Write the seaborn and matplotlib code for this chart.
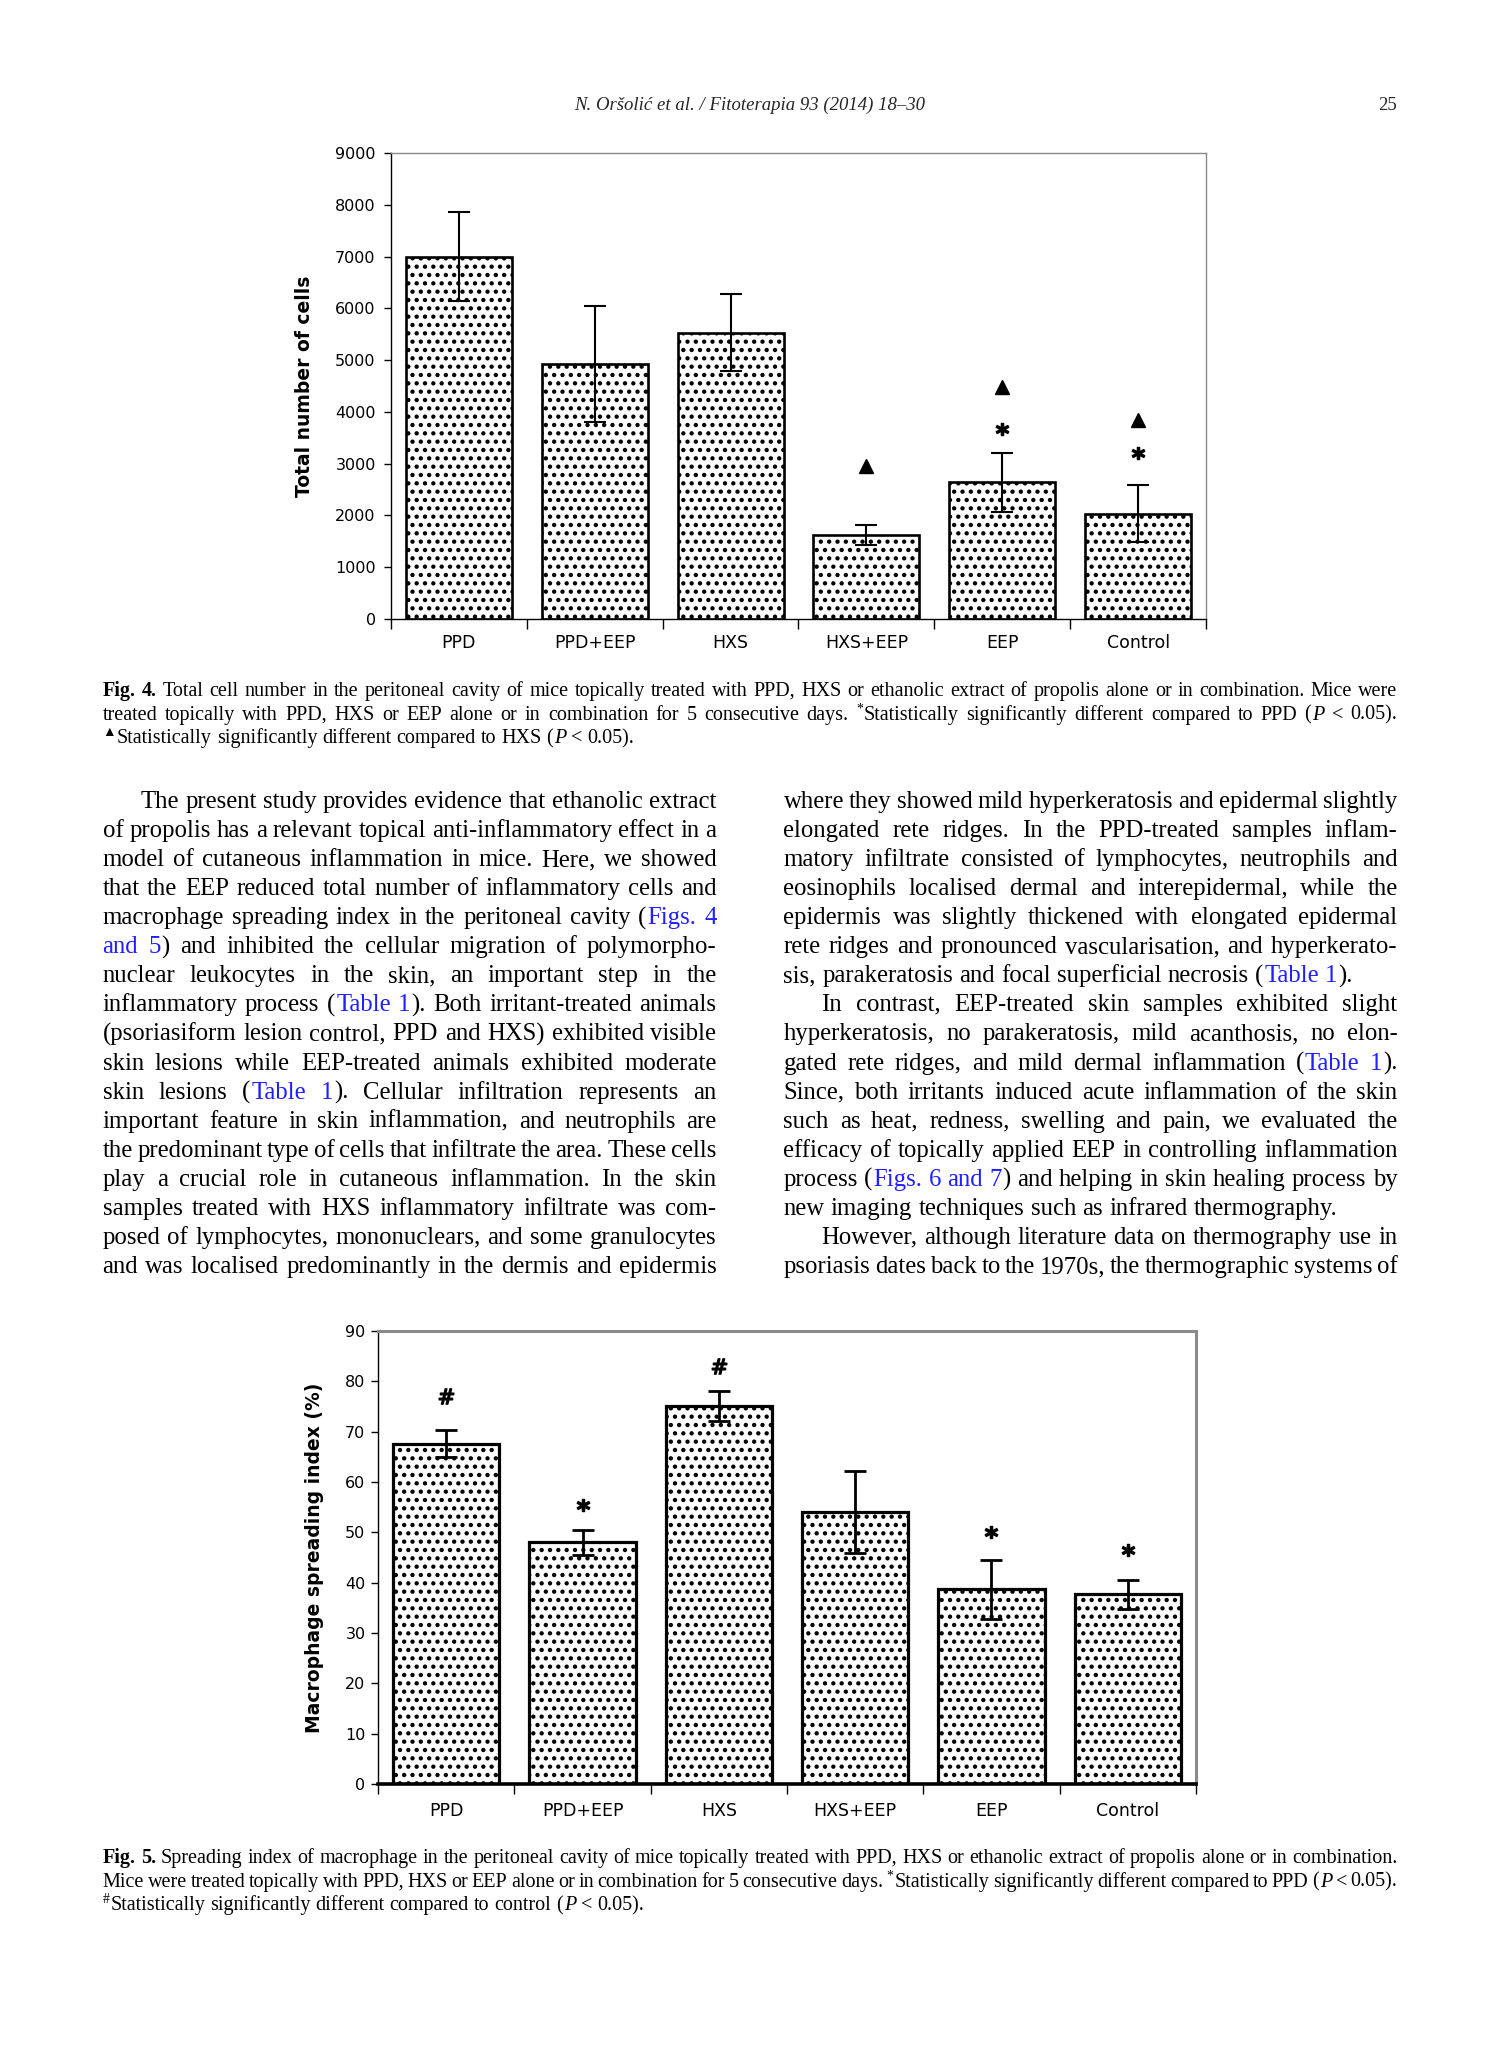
import numpy as np
import pandas as pd
import matplotlib
matplotlib.use("Agg")
import matplotlib.pyplot as plt
import seaborn as sns
from matplotlib.transforms import IdentityTransform
from matplotlib.font_manager import FontProperties

# ---------------- data ----------------
groups = ["PPD", "PPD+EEP", "HXS", "HXS+EEP", "EEP", "Control"]

cells_mean = [7000, 4920, 5530, 1625, 2640, 2030]
cells_sd = [860, 1120, 740, 190, 570, 550]
cells_triangle = [np.nan, np.nan, np.nan, 2960, 4490, 3840]
cells_star = [np.nan, np.nan, np.nan, np.nan, 3660, 3200]
cells_ticks = [0, 1000, 2000, 3000, 4000, 5000, 6000, 7000, 8000, 9000]

spread_mean = [67.6, 48.0, 75.1, 54.0, 38.7, 37.7]
spread_sd = [2.7, 2.5, 3.0, 8.1, 5.9, 2.9]
spread_hash = [77.0, np.nan, 83.1, np.nan, np.nan, np.nan]
spread_star = [np.nan, 55.5, np.nan, np.nan, 50.1, 46.4]
spread_ticks = [0, 10, 20, 30, 40, 50, 60, 70, 80, 90]

header_left = "N. Oršolić et al. / Fitoterapia 93 (2014) 18–30"
header_right = "25"

caption4 = [
    "§Fig. 4.§ Total cell number in the peritoneal cavity of mice topically treated with PPD, HXS or ethanolic extract of propolis alone or in combination. Mice were",
    "treated topically with PPD, HXS or EEP alone or in combination for 5 consecutive days. ^*^Statistically significantly different compared to PPD (¤P¤ < 0.05).",
    "^▲^Statistically significantly different compared to HXS (¤P¤ < 0.05).",
]
caption5 = [
    "§Fig. 5.§ Spreading index of macrophage in the peritoneal cavity of mice topically treated with PPD, HXS or ethanolic extract of propolis alone or in combination.",
    "Mice were treated topically with PPD, HXS or EEP alone or in combination for 5 consecutive days. ^*^Statistically significantly different compared to PPD (¤P¤ < 0.05).",
    "^#^Statistically significantly different compared to control (¤P¤ < 0.05).",
]

body_left = [
    "The present study provides evidence that ethanolic extract",
    "of propolis has a relevant topical anti-inflammatory effect in a",
    "model of cutaneous inflammation in mice. Here, we showed",
    "that the EEP reduced total number of inflammatory cells and",
    "macrophage spreading index in the peritoneal cavity ({Figs. 4}",
    "{and 5}) and inhibited the cellular migration of polymorpho-",
    "nuclear leukocytes in the skin, an important step in the",
    "inflammatory process ({Table 1}). Both irritant-treated animals",
    "(psoriasiform lesion control, PPD and HXS) exhibited visible",
    "skin lesions while EEP-treated animals exhibited moderate",
    "skin lesions ({Table 1}). Cellular infiltration represents an",
    "important feature in skin inflammation, and neutrophils are",
    "the predominant type of cells that infiltrate the area. These cells",
    "play a crucial role in cutaneous inflammation. In the skin",
    "samples treated with HXS inflammatory infiltrate was com-",
    "posed of lymphocytes, mononuclears, and some granulocytes",
    "and was localised predominantly in the dermis and epidermis",
]
body_right = [
    "where they showed mild hyperkeratosis and epidermal slightly",
    "elongated rete ridges. In the PPD-treated samples inflam-",
    "matory infiltrate consisted of lymphocytes, neutrophils and",
    "eosinophils localised dermal and interepidermal, while the",
    "epidermis was slightly thickened with elongated epidermal",
    "rete ridges and pronounced vascularisation, and hyperkerato-",
    "sis, parakeratosis and focal superficial necrosis ({Table 1}).",
    "In contrast, EEP-treated skin samples exhibited slight",
    "hyperkeratosis, no parakeratosis, mild acanthosis, no elon-",
    "gated rete ridges, and mild dermal inflammation ({Table 1}).",
    "Since, both irritants induced acute inflammation of the skin",
    "such as heat, redness, swelling and pain, we evaluated the",
    "efficacy of topically applied EEP in controlling inflammation",
    "process ({Figs. 6 and 7}) and helping in skin healing process by",
    "new imaging techniques such as infrared thermography.",
    "However, although literature data on thermography use in",
    "psoriasis dates back to the 1970s, the thermographic systems of",
]
left_indent = {0}
right_indent = {7, 15}
right_ragged = {6, 14}

# ---------------- figure ----------------
sns.set_style("ticks")
plt.rcParams["font.family"] = ["DejaVu Sans"]
plt.rcParams["hatch.linewidth"] = 1.9

W, H = 1512, 2062
fig = plt.figure(figsize=(W / 100, H / 100), dpi=100)
fig.patch.set_facecolor("white")

SERIF = ["Liberation Serif", "DejaVu Sans"]
BLUE = "#1f1fff"


def add_axes(l, t, r, b):
    return fig.add_axes([l / W, 1 - b / H, (r - l) / W, (b - t) / H])


def bar_chart(ax, means, sds, ticks, ylabel, edge_lw, err_lw, frame_lw,
              bottom_lw, label_x, ytick_pad, xtick_pad):
    df = pd.DataFrame({"group": groups, "value": means})
    sns.barplot(data=df, x="group", y="value", ax=ax, color="white",
                edgecolor="black", linewidth=edge_lw, width=0.78,
                errorbar=None, hatch="..", saturation=1, zorder=2)
    ax.errorbar(np.arange(len(groups)), means, yerr=sds, fmt="none",
                ecolor="black", elinewidth=err_lw, capsize=8,
                capthick=err_lw, zorder=5)
    ax.set_xlim(-0.5, len(groups) - 0.5)
    ax.set_ylim(ticks[0], ticks[-1])
    ax.set_yticks(ticks)
    ax.set_yticklabels([str(t) for t in ticks])
    ax.set_xticks(np.arange(len(groups)))
    ax.set_xticklabels(groups)
    ax.set_xticks(np.arange(-0.5, len(groups), 1.0), minor=True)
    ax.tick_params(axis="x", which="major", length=0, pad=xtick_pad,
                   labelsize=12.5, colors="black")
    ax.tick_params(axis="x", which="minor", length=7, width=1,
                   direction="out", color="black")
    ax.tick_params(axis="y", which="major", length=5, width=1,
                   direction="out", pad=ytick_pad, labelsize=11.5,
                   colors="black")
    ax.set_xlabel("")
    ax.set_ylabel(ylabel, fontsize=13.5, fontweight="bold", color="black")
    ax.yaxis.set_label_coords(label_x, 0.5)
    for side in ("top", "right"):
        ax.spines[side].set_visible(True)
        ax.spines[side].set_color("#8a8a8a")
        ax.spines[side].set_linewidth(frame_lw)
    ax.spines["left"].set_color("black")
    ax.spines["left"].set_linewidth(1.0)
    ax.spines["bottom"].set_color("black")
    ax.spines["bottom"].set_linewidth(bottom_lw)
    ax.set_facecolor("white")


xs = np.arange(len(groups))

# Fig. 4 chart
ax1 = add_axes(391, 153, 1206, 619)
bar_chart(ax1, cells_mean, cells_sd, cells_ticks, "Total number of cells",
          edge_lw=1.9, err_lw=1.5, frame_lw=1.0, bottom_lw=1.0,
          label_x=-0.094, ytick_pad=6, xtick_pad=10.5)
ax1.plot(xs, cells_triangle, linestyle="none", marker="^", markersize=10,
         color="black", zorder=6)
ax1.plot(xs, cells_star, linestyle="none", marker=r"$\mathbf{*}$",
         markersize=9, color="black", zorder=6)

# Fig. 5 chart
ax2 = add_axes(378, 1331, 1196, 1784)
bar_chart(ax2, spread_mean, spread_sd, spread_ticks,
          "Macrophage spreading index (%)",
          edge_lw=2.3, err_lw=2.0, frame_lw=2.2, bottom_lw=2.6,
          label_x=-0.066, ytick_pad=4, xtick_pad=13)
ax2.plot(xs, spread_hash, linestyle="none", marker=r"$\#$", markersize=11,
         color="black", zorder=6)
ax2.plot(xs, spread_star, linestyle="none", marker=r"$\mathbf{*}$",
         markersize=9, color="black", zorder=6)

# ---------------- page text ----------------
renderer = fig.canvas.get_renderer()
IDT = IdentityTransform()


def parse(line):
    st = dict(bold=False, italic=False, sup=False, blue=False)
    words, cur, buf = [], [], [""]

    def push():
        if buf[0]:
            cur.append((buf[0], dict(st)))
            buf[0] = ""

    for ch in line:
        if ch in "§¤^{}":
            push()
            if ch == "§":
                st["bold"] = not st["bold"]
            elif ch == "¤":
                st["italic"] = not st["italic"]
            elif ch == "^":
                st["sup"] = not st["sup"]
            elif ch == "{":
                st["blue"] = True
            else:
                st["blue"] = False
        elif ch == " ":
            push()
            if cur:
                words.append(list(cur))
                cur.clear()
        else:
            buf[0] += ch
    push()
    if cur:
        words.append(list(cur))
    return words


def prop_for(st, size, family):
    s = size * 0.68 if st["sup"] else size
    return FontProperties(family=family, size=s,
                          weight="bold" if st["bold"] else "normal",
                          style="italic" if st["italic"] else "normal")


def text_w(s, prop):
    w, h, d = renderer.get_text_width_height_descent(s, prop, ismath=False)
    return w


def seg_gap(size):
    return 0.04 * size * 100 / 72


def word_width(word, size, family):
    tot = 0.0
    for i, (s, st) in enumerate(word):
        tot += text_w(s, prop_for(st, size, family))
        if i:
            tot += seg_gap(size)
    return tot


def space_w(size, family):
    p = FontProperties(family=family, size=size)
    return text_w("a a", p) - text_w("aa", p)


def indents_px(size):
    return 33.0 * size / 15.5


def fit_size(lines, width, family, indents=(), ragged=(), base=16.0,
             squeeze=0.75):
    best = 1e9
    for i, ln in enumerate(lines):
        if i in ragged:
            continue
        words = parse(ln)
        need = sum(word_width(w, base, family) for w in words)
        need += squeeze * space_w(base, family) * (len(words) - 1)
        avail = width - (indents_px(base) if i in indents else 0)
        best = min(best, base * avail / need)
    return best


def draw_line(line, x0, x1, ybase, size, family, justify=True, indent=0.0,
              color="black"):
    words = parse(line)
    widths = [word_width(w, size, family) for w in words]
    if justify and len(words) > 1:
        gap = (x1 - x0 - indent - sum(widths)) / (len(words) - 1)
    else:
        gap = space_w(size, family)
    x = x0 + indent
    yd = H - ybase
    for w, wd in zip(words, widths):
        xx = x
        for i, (s, st) in enumerate(w):
            if i:
                xx += seg_gap(size)
            p = prop_for(st, size, family)
            dy = 0.36 * size * 100 / 72 if st["sup"] else 0.0
            fig.text(xx, yd + dy, s, fontproperties=p,
                     color=BLUE if st["blue"] else color,
                     ha="left", va="baseline", transform=IDT)
            xx += text_w(s, p)
        x += wd + gap


# header
fig.text(750, H - 110, header_left, transform=IDT, ha="center",
         va="baseline", fontproperties=FontProperties(
             family=SERIF, size=13.5, style="italic"))
fig.text(1397, H - 110, header_right, transform=IDT, ha="right",
         va="baseline", fontproperties=FontProperties(family=SERIF, size=13.5))

# captions
CAP_X0, CAP_X1 = 102.5, 1397.5
cap_size = min(fit_size(caption4, CAP_X1 - CAP_X0, SERIF, ragged={2}, base=13),
               fit_size(caption5, CAP_X1 - CAP_X0, SERIF, ragged={2}, base=13))
for i, ln in enumerate(caption4):
    draw_line(ln, CAP_X0, CAP_X1, 696 + i * 23.7, cap_size, SERIF,
              justify=(i < 2))
for i, ln in enumerate(caption5):
    draw_line(ln, CAP_X0, CAP_X1, 1863 + i * 23.7, cap_size, SERIF,
              justify=(i < 2))

# body columns
LX0, LX1 = 102.5, 716.5
RX0, RX1 = 783.5, 1397.5
body_size = min(
    fit_size(body_left, LX1 - LX0, SERIF, indents=left_indent, base=16),
    fit_size(body_right, RX1 - RX0, SERIF, indents=right_indent,
             ragged=right_ragged, base=16))
for i, ln in enumerate(body_left):
    draw_line(ln, LX0, LX1, 808 + i * 29.06, body_size, SERIF,
              justify=True,
              indent=indents_px(body_size) if i in left_indent else 0.0)
for i, ln in enumerate(body_right):
    draw_line(ln, RX0, RX1, 808 + i * 29.06, body_size, SERIF,
              justify=(i not in right_ragged),
              indent=indents_px(body_size) if i in right_indent else 0.0)

fig.savefig("out.png", dpi=100, facecolor="white")
